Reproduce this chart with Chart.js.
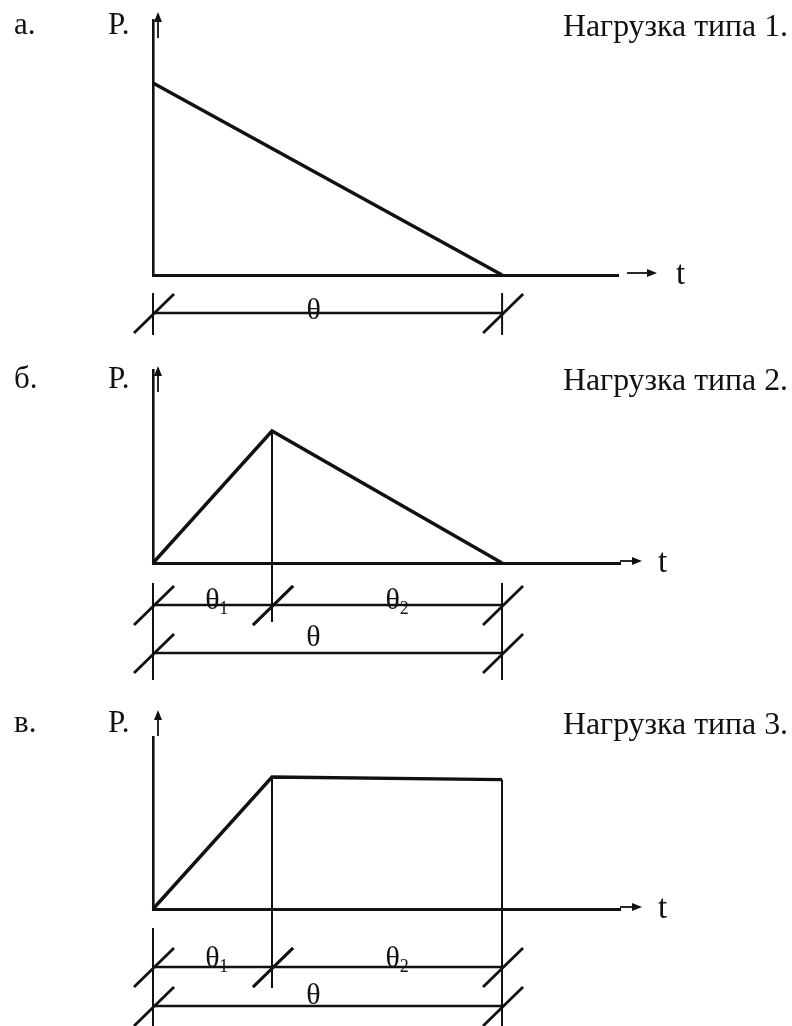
<!DOCTYPE html>
<html lang="ru">
<head>
<meta charset="utf-8">
<title>Нагрузка типа 1, 2, 3</title>
<script src="https://cdn.jsdelivr.net/npm/chart.js@4.4.1/dist/chart.umd.min.js"></script>
<style>
  html, body { margin: 0; padding: 0; background: #fff; }
  canvas { display: block; }
</style>
</head>
<body>
<canvas id="chartA" width="792" height="345"></canvas>
<canvas id="chartB" width="792" height="355"></canvas>
<canvas id="chartC" width="792" height="326"></canvas>
<script>
// Type 1 - drops linearly from P to 0 over θ
const timeA = [0, 1];
const loadA = [1, 0];

// Type 2 - rises over θ1, falls over θ2
const timeB = [0, 0.341, 1];
const loadB = [0, 1, 0];

// Type 3 - rises over θ1, then holds until θ
const timeC = [0, 0.341, 1];
const loadC = [0, 1, 0.98];

const panelLetters = ["а.", "б.", "в."];
const panelTitles = ["Нагрузка типа 1.", "Нагрузка типа 2.", "Нагрузка типа 3."];
const axisNames = ["P.", "t"];

const ink = "#111";
const serif = "'Liberation Serif', serif";

function toPoints(xs, ys) {
  return xs.map((t, i) => ({ x: t, y: ys[i] }));
}

function stroke(ctx, x1, y1, x2, y2) {
  ctx.beginPath();
  ctx.moveTo(x1, y1);
  ctx.lineTo(x2, y2);
  ctx.stroke();
}

// thin arrow with a small filled head at (x2, y2)
function arrow(ctx, x1, y1, x2, y2) {
  const a = Math.atan2(y2 - y1, x2 - x1);
  ctx.lineWidth = 1.8;
  stroke(ctx, x1, y1, x2 - 4 * Math.cos(a), y2 - 4 * Math.sin(a));
  ctx.beginPath();
  ctx.moveTo(x2, y2);
  ctx.lineTo(x2 - 10 * Math.cos(a) + 4 * Math.sin(a), y2 - 10 * Math.sin(a) - 4 * Math.cos(a));
  ctx.lineTo(x2 - 10 * Math.cos(a) - 4 * Math.sin(a), y2 - 10 * Math.sin(a) + 4 * Math.cos(a));
  ctx.closePath();
  ctx.fill();
}

// stretch a text horizontally so it fills [left, right]
function fitText(ctx, text, left, right, base) {
  const w = ctx.measureText(text).width;
  ctx.save();
  ctx.translate(left, base);
  ctx.scale((right - left) / w, 1);
  ctx.textAlign = "left";
  ctx.fillText(text, 0, 0);
  ctx.restore();
}

// labels, arrows, extension and dimension lines
const sketchPlugin = {
  id: "sketch",
  afterDraw(chart, args, o) {
    const ctx = chart.ctx;
    const xs = chart.scales.x, ys = chart.scales.y;
    const px = v => xs.getPixelForValue(v);
    const base = ys.getPixelForValue(0);
    const left = chart.chartArea.left, right = chart.chartArea.right;
    const top = chart.chartArea.top;
    ctx.save();
    ctx.fillStyle = ink;
    ctx.strokeStyle = ink;
    ctx.lineCap = "butt";

    ctx.font = "31px " + serif;
    ctx.textBaseline = "alphabetic";
    ctx.textAlign = "left";
    ctx.fillText(o.letter, 14, o.textY);
    ctx.fillText(axisNames[0], 108, o.textY);
    fitText(ctx, o.title, 563, 788, o.textY + 2);

    // arrow on P axis
    arrow(ctx, left + 5, top + o.upDy + 24, left + 5, top + o.upDy - 2);
    // arrow and name of t axis
    arrow(ctx, right + o.arrowGap, base - 2, right + o.arrowGap + o.arrowLen, base - 2);
    ctx.font = "33px " + serif;
    ctx.textAlign = "left";
    ctx.fillText(axisNames[1], o.tX, base + 9);

    // extension lines
    ctx.lineWidth = 2;
    o.exts.forEach(e => {
      const y0 = e.from == null ? base + e.y0 : ys.getPixelForValue(e.from);
      stroke(ctx, px(e.t), y0, px(e.t), base + e.y1);
    });

    // dimension lines with slash ticks
    o.dims.forEach(row => {
      const yy = base + row.dy;
      row.parts.forEach(p => {
        const x1 = px(p.from), x2 = px(p.to);
        ctx.lineWidth = 2.6;
        stroke(ctx, x1, yy, x2, yy);
        ctx.lineWidth = 2.8;
        [x1, x2].forEach(xx => stroke(ctx, xx - 19, yy + 20, xx + 21, yy - 19));
        const lx = px(p.at);
        ctx.font = "30px " + serif;
        ctx.textAlign = "center";
        ctx.fillText("θ", lx, yy + row.textDy);
        if (p.sub) {
          ctx.font = "18px " + serif;
          ctx.textAlign = "left";
          ctx.fillText(p.sub, lx + 7, yy + row.textDy + 5);
        }
      });
    });
    ctx.restore();
  }
};

function makeChart(id, xs, ys, yMax, xMax, pad, sketch) {
  return new Chart(document.getElementById(id), {
    type: "scatter",
    data: {
      datasets: [{
        data: toPoints(xs, ys),
        showLine: true,
        borderColor: ink,
        borderWidth: 3.4,
        pointRadius: 0,
        tension: 0,
        fill: false,
        clip: false
      }]
    },
    options: {
      responsive: false,
      animation: false,
      devicePixelRatio: 1,
      events: [],
      layout: { padding: pad },
      scales: {
        x: {
          type: "linear", min: 0, max: xMax,
          grid: { display: false, drawTicks: false },
          ticks: { display: false },
          border: { display: true, color: ink, width: 3 }
        },
        y: {
          type: "linear", min: 0, max: yMax,
          grid: { display: false, drawTicks: false },
          ticks: { display: false },
          border: { display: true, color: ink, width: 2.6 }
        }
      },
      plugins: {
        legend: { display: false },
        tooltip: { enabled: false },
        sketch: sketch
      }
    },
    plugins: [sketchPlugin]
  });
}

makeChart("chartA", timeA, loadA, 1.328, 1.332,
  { left: 153, right: 174, top: 20, bottom: 70 },
  {
    letter: panelLetters[0], title: panelTitles[0], textY: 34,
    upDy: -6, arrowGap: 9, arrowLen: 30, tX: 676,
    exts: [
      { t: 0, y0: 18, y1: 60 },
      { t: 1, y0: 18, y1: 60 }
    ],
    dims: [
      { dy: 38, textDy: 6, parts: [{ from: 0, to: 1, at: 0.46 }] }
    ]
  });

makeChart("chartB", timeB, loadB, 1.462, 1.338,
  { left: 153, right: 172, top: 25, bottom: 137 },
  {
    letter: panelLetters[1], title: panelTitles[1], textY: 43,
    upDy: -2, arrowGap: 0, arrowLen: 22, tX: 658,
    exts: [
      { t: 0, y0: 20, y1: 117 },
      { t: 1, y0: 20, y1: 117 },
      { t: timeB[1], from: loadB[1], y1: 59 }
    ],
    dims: [
      { dy: 42, textDy: 4, parts: [
        { from: 0, to: timeB[1], at: 0.17, sub: "1" },
        { from: timeB[1], to: 1, at: 0.687, sub: "2" }
      ] },
      { dy: 90, textDy: -7, parts: [{ from: 0, to: 1, at: 0.46 }] }
    ]
  });

makeChart("chartC", timeC, loadC, 1.303, 1.338,
  { left: 153, right: 172, top: 37, bottom: 117 },
  {
    letter: panelLetters[2], title: panelTitles[2], textY: 32,
    upDy: -25, arrowGap: 0, arrowLen: 22, tX: 658,
    exts: [
      { t: 0, y0: 19, y1: 117 },
      { t: 1, from: loadC[2], y1: 117 },
      { t: timeC[1], from: loadC[1], y1: 79 }
    ],
    dims: [
      { dy: 58, textDy: 0, parts: [
        { from: 0, to: timeC[1], at: 0.17, sub: "1" },
        { from: timeC[1], to: 1, at: 0.687, sub: "2" }
      ] },
      { dy: 97, textDy: -2, parts: [{ from: 0, to: 1, at: 0.46 }] }
    ]
  });
</script>
</body>
</html>
